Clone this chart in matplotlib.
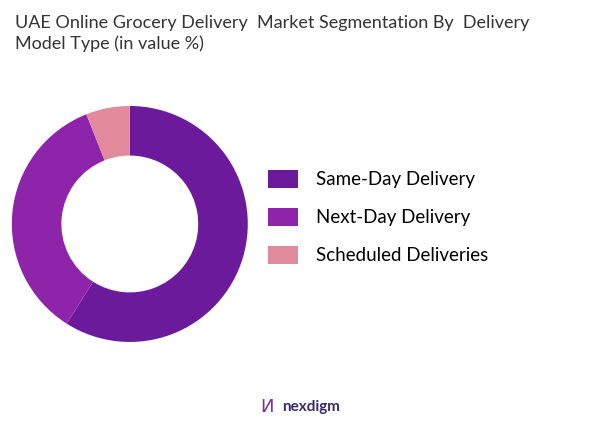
import matplotlib.pyplot as plt
from matplotlib.patches import Patch

categories = ["Same-Day Delivery", "Next-Day Delivery", "Scheduled Deliveries"]
values = [59, 35, 6]
colors = ["#6B1A9B", "#8E24AA", "#E08A9C"]

fig = plt.figure(figsize=(5.9, 4.25), dpi=100)
fig.patch.set_facecolor("white")
w, h = 0.5, 0.694
ax = fig.add_axes([0.22 - w / 2, 0.473 - h / 2, w, h])
ax.pie(values, colors=colors, startangle=90, counterclock=False,
       wedgeprops=dict(width=0.42, edgecolor="none"))
ax.set_aspect("equal")

fig.text(0.025, 0.965, "UAE Online Grocery Delivery  Market Segmentation By  Delivery\nModel Type (in value %)",
         fontsize=13, color="#333333", va="top", ha="left", family="Lato", linespacing=1.3)

handles = [Patch(facecolor=c, edgecolor="none") for c in colors]
fig.legend(handles, categories, loc="center left", bbox_to_anchor=(0.425, 0.49),
           frameon=False, handlelength=1.6, handleheight=1.1, handletextpad=1.0,
           labelspacing=1.05, prop={"family": "Lato", "size": 13.5})

fig.text(0.478, 0.043, "nexdigm", fontsize=11, color="#3a2a6a", ha="left", va="center", family="Lato", weight="bold")
fig.text(0.452, 0.043, "\u0418", fontsize=13, color="#7B2FA0", ha="center", va="center")

fig.savefig("out.png", dpi=100)
